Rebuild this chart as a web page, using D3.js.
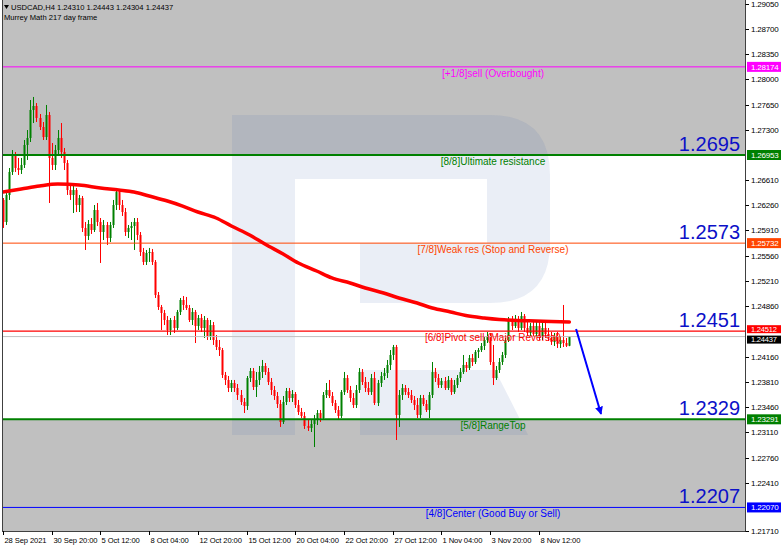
<!DOCTYPE html>
<html><head><meta charset="utf-8">
<script src="https://cdn.jsdelivr.net/npm/d3@7/dist/d3.min.js"></script>
<style>body{margin:0;background:#fff}svg{display:block}</style>
</head><body><svg id="c" width="782" height="550"></svg>
<script>
// ---------------- DATA ----------------
const symbolTitle = "USDCAD,H4  1.24310 1.24443 1.24304 1.24437";
const indicatorTitle = "Murrey Math 217 day frame";

// H4 candles: [open, high, low, close]
const ohlc = [
[1.26330,1.26357,1.25942,1.26025],[1.26025,1.26440,1.25983,1.26399],[1.26399,1.26773,1.26330,1.26718],[1.26718,1.27022,1.26676,1.26953],
[1.26953,1.26995,1.26718,1.26773],[1.26773,1.26912,1.26676,1.26745],[1.26745,1.26912,1.26690,1.26815],[1.26815,1.27161,1.26773,1.27092],
[1.27092,1.27299,1.26884,1.27189],[1.27189,1.27715,1.27133,1.27577],[1.27577,1.27757,1.27396,1.27632],[1.27632,1.27673,1.27410,1.27466],
[1.27466,1.27521,1.27299,1.27341],[1.27341,1.27410,1.27161,1.27202],[1.27202,1.27646,1.27161,1.27507],[1.27507,1.27549,1.26288,1.26912],
[1.26912,1.27119,1.26745,1.26815],[1.26815,1.27092,1.26745,1.27022],[1.27022,1.27299,1.26953,1.27189],[1.27189,1.27396,1.26912,1.26995],
[1.26995,1.27050,1.26745,1.26842],[1.26842,1.26884,1.26399,1.26468],[1.26468,1.26537,1.26330,1.26399],[1.26399,1.26524,1.26149,1.26468],
[1.26468,1.26496,1.26163,1.26260],[1.26260,1.26399,1.26163,1.26357],[1.26357,1.26385,1.25886,1.25942],[1.25942,1.26025,1.25637,1.25831],
[1.25831,1.26052,1.25775,1.25997],[1.25997,1.26080,1.25859,1.25914],[1.25914,1.26260,1.25886,1.26191],[1.26191,1.26288,1.25969,1.26025],
[1.26025,1.26080,1.25457,1.25886],[1.25886,1.26052,1.25775,1.25983],[1.25983,1.26025,1.25706,1.25803],[1.25803,1.26025,1.25748,1.25983],
[1.25983,1.26330,1.25942,1.26260],[1.26260,1.26496,1.26191,1.26440],[1.26440,1.26468,1.26191,1.26260],[1.26260,1.26330,1.26108,1.26163],
[1.26163,1.26219,1.25831,1.25886],[1.25886,1.25983,1.25803,1.25942],[1.25942,1.26025,1.25775,1.25969],[1.25969,1.26080,1.25637,1.26025],
[1.26025,1.26080,1.25775,1.25845],[1.25845,1.25886,1.25554,1.25609],[1.25609,1.25665,1.25429,1.25471],[1.25471,1.25637,1.25429,1.25595],
[1.25595,1.25665,1.25471,1.25609],[1.25609,1.25651,1.25429,1.25471],[1.25471,1.25498,1.24972,1.25013],[1.25013,1.25055,1.24806,1.24847],
[1.24847,1.24875,1.24528,1.24764],[1.24764,1.24806,1.24597,1.24667],[1.24667,1.24722,1.24459,1.24528],[1.24528,1.24695,1.24459,1.24667],
[1.24667,1.24722,1.24487,1.24556],[1.24556,1.24806,1.24528,1.24778],[1.24778,1.24972,1.24736,1.24944],[1.24944,1.24999,1.24806,1.24875],
[1.24875,1.24986,1.24806,1.24833],[1.24833,1.24875,1.24639,1.24667],[1.24667,1.24833,1.24597,1.24778],[1.24778,1.24806,1.24348,1.24584],
[1.24584,1.24736,1.24528,1.24695],[1.24695,1.24750,1.24501,1.24556],[1.24556,1.24722,1.24418,1.24667],[1.24667,1.24695,1.24390,1.24445],
[1.24445,1.24667,1.24390,1.24597],[1.24597,1.24639,1.24321,1.24390],[1.24390,1.24459,1.24251,1.24293],[1.24293,1.24390,1.24168,1.24251],
[1.24251,1.24279,1.23863,1.23905],[1.23905,1.23947,1.23766,1.23836],[1.23836,1.23891,1.23669,1.23725],[1.23725,1.23836,1.23669,1.23794],
[1.23794,1.23836,1.23669,1.23725],[1.23725,1.23780,1.23559,1.23628],[1.23628,1.23697,1.23489,1.23531],[1.23531,1.23586,1.23378,1.23475],
[1.23475,1.23891,1.23420,1.23863],[1.23863,1.24002,1.23808,1.23960],[1.23960,1.24002,1.23697,1.23739],[1.23739,1.23947,1.23600,1.23836],
[1.23836,1.24030,1.23766,1.23947],[1.23947,1.24113,1.23863,1.24030],[1.24030,1.24071,1.23905,1.23947],[1.23947,1.24002,1.23766,1.23808],
[1.23808,1.23863,1.23628,1.23697],[1.23697,1.23753,1.23559,1.23614],[1.23614,1.23669,1.23448,1.23503],[1.23503,1.23559,1.23185,1.23254],
[1.23254,1.23614,1.23226,1.23531],[1.23531,1.23725,1.23489,1.23683],[1.23683,1.23725,1.23531,1.23586],[1.23586,1.23697,1.23531,1.23642],
[1.23642,1.23669,1.23448,1.23489],[1.23489,1.23559,1.23351,1.23392],[1.23392,1.23448,1.23309,1.23337],[1.23337,1.23392,1.23157,1.23199],
[1.23199,1.23281,1.23129,1.23171],[1.23171,1.23281,1.23115,1.23226],[1.23226,1.23351,1.22907,1.23281],[1.23281,1.23420,1.23212,1.23378],
[1.23378,1.23420,1.23254,1.23309],[1.23309,1.23669,1.23281,1.23628],[1.23628,1.23794,1.23586,1.23697],[1.23697,1.23836,1.23586,1.23614],
[1.23614,1.23669,1.23475,1.23517],[1.23517,1.23559,1.23378,1.23420],[1.23420,1.23475,1.23281,1.23337],[1.23337,1.23697,1.23309,1.23669],
[1.23669,1.23947,1.23628,1.23863],[1.23863,1.23905,1.23656,1.23697],[1.23697,1.23753,1.23531,1.23586],[1.23586,1.23656,1.23448,1.23489],
[1.23489,1.23766,1.23448,1.23697],[1.23697,1.24002,1.23656,1.23947],[1.23947,1.23988,1.23766,1.23808],[1.23808,1.23877,1.23669,1.23725],
[1.23725,1.23808,1.23628,1.23669],[1.23669,1.23919,1.23628,1.23863],[1.23863,1.23947,1.23489,1.23517],[1.23517,1.23836,1.23475,1.23794],
[1.23794,1.23947,1.23739,1.23891],[1.23891,1.24002,1.23836,1.23933],[1.23933,1.24113,1.23863,1.24044],[1.24044,1.24251,1.23974,1.24182],
[1.24182,1.24321,1.24113,1.24293],[1.24293,1.24321,1.23004,1.23351],[1.23351,1.23697,1.23185,1.23628],[1.23628,1.23780,1.23559,1.23725],
[1.23725,1.23766,1.23628,1.23669],[1.23669,1.23725,1.23586,1.23628],[1.23628,1.23697,1.23517,1.23559],[1.23559,1.23614,1.23420,1.23489],
[1.23489,1.23586,1.23309,1.23351],[1.23351,1.23628,1.23309,1.23586],[1.23586,1.23628,1.23475,1.23503],[1.23503,1.23559,1.23392,1.23420],
[1.23420,1.23669,1.23309,1.23628],[1.23628,1.24085,1.23586,1.23947],[1.23947,1.24002,1.23808,1.23863],[1.23863,1.23919,1.23725,1.23766],
[1.23766,1.23863,1.23725,1.23822],[1.23822,1.23877,1.23697,1.23725],[1.23725,1.23891,1.23697,1.23836],[1.23836,1.23863,1.23628,1.23669],
[1.23669,1.23836,1.23642,1.23766],[1.23766,1.23905,1.23725,1.23863],[1.23863,1.24002,1.23808,1.23947],[1.23947,1.24182,1.23919,1.24044],
[1.24044,1.24085,1.23947,1.24002],[1.24002,1.24182,1.23974,1.24140],[1.24140,1.24196,1.24030,1.24085],[1.24085,1.24251,1.24057,1.24224],
[1.24224,1.24279,1.24140,1.24251],[1.24251,1.24348,1.24224,1.24307],[1.24307,1.24432,1.24251,1.24390],[1.24390,1.24501,1.24348,1.24445],
[1.24445,1.24487,1.24044,1.24085],[1.24085,1.24321,1.23766,1.23863],[1.23863,1.24030,1.23836,1.23974],[1.23974,1.24140,1.23933,1.24085],
[1.24085,1.24224,1.24044,1.24182],[1.24182,1.24418,1.24140,1.24390],[1.24390,1.24709,1.24362,1.24667],[1.24667,1.24722,1.24528,1.24584],
[1.24584,1.24736,1.24556,1.24681],[1.24681,1.24722,1.24501,1.24556],[1.24556,1.24778,1.24528,1.24722],[1.24722,1.24750,1.24501,1.24556],
[1.24556,1.24639,1.24445,1.24487],[1.24487,1.24625,1.24445,1.24584],[1.24584,1.24639,1.24432,1.24473],[1.24473,1.24639,1.24445,1.24584],
[1.24584,1.24639,1.24390,1.24445],[1.24445,1.24639,1.24390,1.24556],[1.24556,1.24625,1.24418,1.24473],[1.24473,1.24556,1.24376,1.24418],
[1.24418,1.24501,1.24321,1.24362],[1.24362,1.24487,1.24307,1.24445],[1.24445,1.24501,1.24279,1.24334],[1.24334,1.24445,1.24279,1.24390],
[1.24390,1.24875,1.24293,1.24348],[1.24348,1.24418,1.24293,1.24310],[1.24310,1.24443,1.24304,1.24437]
];

// moving average (bar index, value)
const maBars   = [0,6,12,18,25,32,38,43,48,54,59,64,70,75,81,86,92,97,103,108,114,119,125,130,136,141,147,152,158,163,169,175,180,186];
const maValues = [1.26440,1.26482,1.26524,1.26551,1.26537,1.26496,1.26468,1.26440,1.26385,1.26316,1.26246,1.26163,1.26080,1.25969,1.25845,1.25720,1.25581,1.25457,1.25346,1.25249,1.25180,1.25110,1.25041,1.24972,1.24902,1.24833,1.24778,1.24729,1.24695,1.24674,1.24660,1.24653,1.24646,1.24639];

// Murrey Math levels
const levelPrices = [1.28174, 1.26953, 1.25732, 1.24512, 1.23291, 1.22070];
const levelNames  = ["[+1/8]sell (Overbought)","[8/8]Ultimate resistance","[7/8]Weak res (Stop and Reverse)","[6/8]Pivot sell (Major Reversal)","[5/8]RangeTop","[4/8]Center (Good Buy or Sell)"];
const levelAxisLabels = ["1.28174","1.26953","1.25732","1.24512","1.23291","1.22070"];
const bigLabels   = ["","1.2695","1.2573","1.2451","1.2329","1.2207"];
const lastPrice = 1.24437, lastPriceLabel = "1.24437";

// y-axis tick labels
const priceTickLabels = ["1.29050","1.28700","1.28350","1.28000","1.27650","1.27300","1.26610","1.26260","1.25910","1.25560","1.25210","1.24860","1.24160","1.23810","1.23460","1.23110","1.22760","1.22410","1.21710"];
// x-axis tick labels (bar index)
const dateTickBars   = [0,16,32,48,64,80,96,112,128,144,160,176];
const dateTickLabels = ["28 Sep 2021","30 Sep 20:00","5 Oct 12:00","8 Oct 04:00","12 Oct 20:00","15 Oct 12:00","20 Oct 04:00","22 Oct 20:00","27 Oct 12:00","1 Nov 04:00","3 Nov 20:00","8 Nov 12:00"];

// forecast arrow (bar index, price)
const arrowFrom = [188.2, 1.24542];
const arrowTo   = [196.4, 1.23365];

// ---------------- STYLE ----------------
const levelColors = ["#ff00ff","#008000","#ff4500","#ff0000","#008000","#0000ff"];
const levelWidths = [1,2,1,1.3,2,1];
const bull = "#008000", bear = "#ff0000", bgGray = "#c0c0c0";
const L = 2, R = 745, T = 0, B = 531;

// ---------------- DRAW ----------------
const svg = d3.select("#c");
const x = d3.scaleLinear().domain([0, (R - 3) / 3.045]).range([3, R]);
const y = d3.scaleLinear().domain([1.291005 - 0.00013855 * 536, 1.291005]).range([536, 0]);

const defs = svg.append("defs");
defs.append("clipPath").attr("id","pc").append("rect")
  .attr("x",L).attr("y",T).attr("width",R-L).attr("height",B-T);
const plot = svg.append("g").attr("clip-path","url(#pc)");

plot.append("rect").attr("x",L).attr("y",T).attr("width",R-L).attr("height",B-T).attr("fill","#fff");
// gray zones outside [5/8]..[8/8]
plot.append("rect").attr("x",L).attr("y",T).attr("width",R-L).attr("height",y(levelPrices[1])-T).attr("fill",bgGray);
plot.append("rect").attr("x",L).attr("y",y(levelPrices[4])).attr("width",R-L).attr("height",B-y(levelPrices[4])).attr("fill",bgGray);

// watermark logo
const wm = plot.append("g").attr("fill","rgba(60,100,170,0.11)");
wm.append("path").attr("d","M232,115 H490 Q550,115 550,175 V243 Q550,303 490,303 H360 V243 H487 V179 H295 V435 H232 Z");
wm.append("path").attr("d","M360,370 H495 L528,435 H360 Z");

// candles
const cg = plot.append("g");
cg.selectAll("line.w").data(ohlc).join("line")
  .attr("x1",(d,i)=>Math.round(x(i))+0.5).attr("x2",(d,i)=>Math.round(x(i))+0.5)
  .attr("y1",d=>y(d[1])).attr("y2",d=>y(d[2]))
  .attr("stroke",d=>d[3]>=d[0]?bull:bear).attr("stroke-width",1);
cg.selectAll("rect.b").data(ohlc).join("rect")
  .attr("x",(d,i)=>Math.round(x(i))-0.5).attr("width",2)
  .attr("y",d=>y(Math.max(d[0],d[3])))
  .attr("height",d=>Math.max(1,Math.abs(y(d[0])-y(d[3]))))
  .attr("fill",d=>d[3]>=d[0]?bull:bear);

// level lines
levelPrices.forEach((p,k)=>{
  plot.append("line").attr("x1",L).attr("x2",R).attr("y1",y(p)).attr("y2",y(p))
    .attr("stroke",levelColors[k]).attr("stroke-width",levelWidths[k]);
});
// last price line
plot.append("line").attr("x1",L).attr("x2",R).attr("y1",y(lastPrice)).attr("y2",y(lastPrice))
  .attr("stroke","#c0c0c0").attr("stroke-width",1);

// moving average
const maPts = maBars.map((b,i)=>[b,maValues[i]]);
plot.append("path").datum(maPts)
  .attr("d",d3.line().x(d=>x(d[0])).y(d=>y(d[1])).curve(d3.curveMonotoneX))
  .attr("fill","none").attr("stroke","#ff0000").attr("stroke-width",3.5).attr("stroke-linecap","round");

// level text labels
const tf = "Liberation Sans, Arial, sans-serif";
levelPrices.forEach((p,k)=>{
  plot.append("text").attr("x",493).attr("y",y(p)+10).attr("text-anchor","middle")
    .attr("font-family",tf).attr("font-size",10)
    .attr("fill",levelColors[k]).text(levelNames[k]);
  if (bigLabels[k]) plot.append("text").attr("x",740).attr("y",y(p)-4).attr("text-anchor","end")
    .attr("font-family",tf).attr("font-size",20)
    .attr("fill","#0c10c8").text(bigLabels[k]);
});

// arrow
defs.append("marker").attr("id","ah").attr("viewBox","0 0 10 10").attr("refX",9).attr("refY",5)
  .attr("markerWidth",4).attr("markerHeight",4).attr("orient","auto")
  .append("path").attr("d","M0,0 L10,5 L0,10 z").attr("fill","#0000ff");
plot.append("line").attr("x1",x(arrowFrom[0])).attr("y1",y(arrowFrom[1]))
  .attr("x2",x(arrowTo[0])).attr("y2",y(arrowTo[1]))
  .attr("stroke","#0000ff").attr("stroke-width",2).attr("marker-end","url(#ah)");

// header
plot.append("path").attr("d","M4,5 L9,5 L6.5,9 Z").attr("fill","#000");
plot.append("text").attr("x",11).attr("y",10).attr("font-family",tf).attr("font-size",7.6).attr("fill","#000").text(symbolTitle);
plot.append("text").attr("x",4).attr("y",20).attr("font-family",tf).attr("font-size",7.6).attr("fill","#000").text(indicatorTitle);

// plot border
svg.append("rect").attr("x",L+0.5).attr("y",T-1).attr("width",R-L).attr("height",B-T+1.5)
  .attr("fill","none").attr("stroke","#404040").attr("stroke-width",1);

// right axis
const ax = svg.append("g");
priceTickLabels.forEach(s=>{
  const yy = Math.min(y(+s), B);
  ax.append("line").attr("x1",R+0.5).attr("x2",R+4).attr("y1",Math.round(yy)+0.5).attr("y2",Math.round(yy)+0.5).attr("stroke","#000");
  ax.append("text").attr("x",R+6).attr("y",yy+3).attr("font-family",tf).attr("font-size",8)
    .attr("letter-spacing",-0.2).attr("fill","#000").text(s);
});
const boxes = levelPrices.map((p,k)=>({p, label:levelAxisLabels[k], color:levelColors[k], dy:0}))
  .concat([{p:lastPrice,label:lastPriceLabel,color:"#000", dy:0}]);
// the 6/8 level box and the last-price box sit next to each other: nudge apart
boxes[3].dy = -2; boxes[6].dy = 3;
boxes.forEach(b=>{
  const yy = y(b.p) + b.dy;
  const h = (b.dy !== 0) ? 8 : 10;
  ax.append("rect").attr("x",R+2).attr("y",yy-h/2).attr("width",34).attr("height",h).attr("fill",b.color);
  ax.append("text").attr("x",R+6).attr("y",yy+2.8).attr("font-family",tf).attr("font-size",b.dy!==0?7.5:8)
    .attr("letter-spacing",-0.2).attr("fill","#fff").text(b.label);
});

// bottom axis
dateTickBars.forEach((b,k)=>{
  const xx = Math.round(x(b))+0.5;
  ax.append("line").attr("x1",xx).attr("x2",xx).attr("y1",B).attr("y2",B+4).attr("stroke","#000");
  ax.append("text").attr("x",xx+1).attr("y",B+12).attr("font-family",tf).attr("font-size",7.6)
    .attr("letter-spacing",-0.1).attr("fill","#000").text(dateTickLabels[k]);
});
</script></body></html>
